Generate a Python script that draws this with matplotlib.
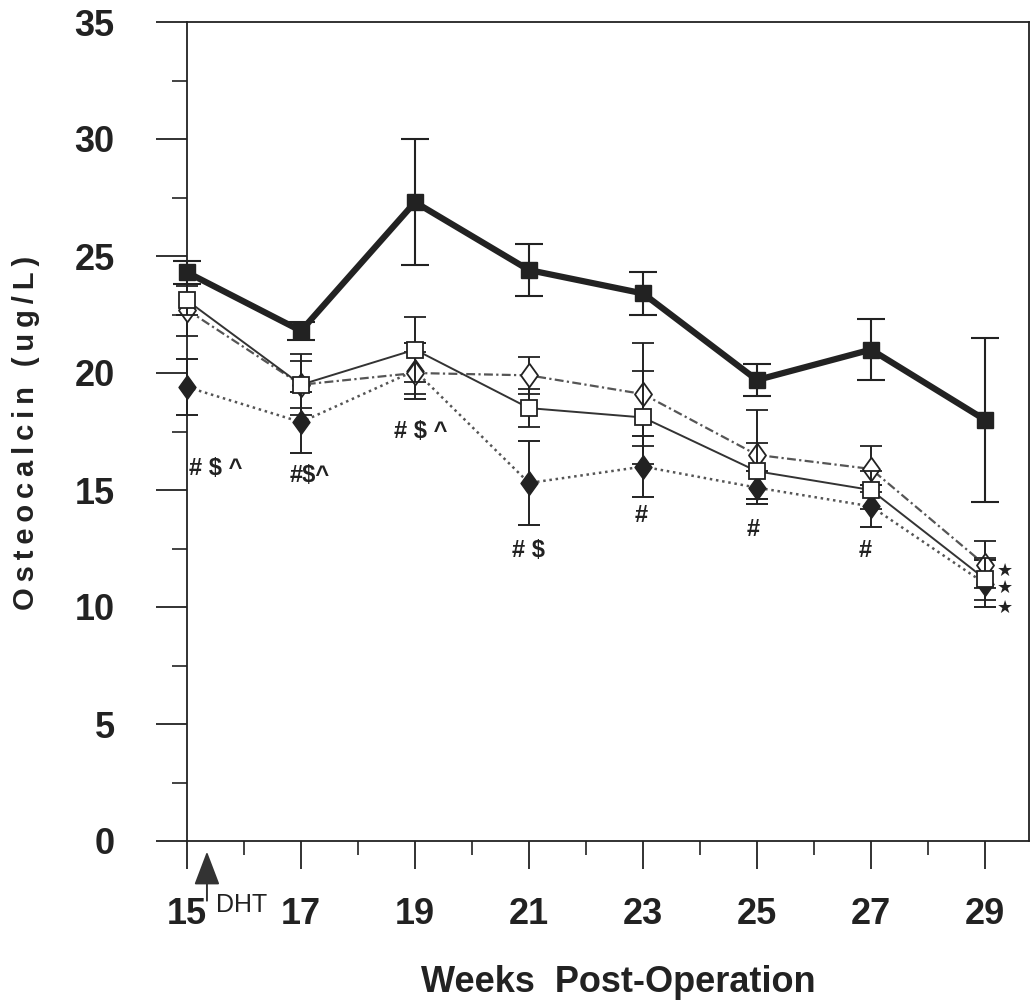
import matplotlib
matplotlib.use('Agg')
import matplotlib.pyplot as plt
from matplotlib.ticker import MultipleLocator

plt.rcParams['font.family'] = ['Liberation Sans', 'DejaVu Sans']

weeks = [15, 17, 19, 21, 23, 25, 27, 29]

# filled squares, thick line
sq_fill = [24.3, 21.8, 27.3, 24.4, 23.4, 19.7, 21.0, 18.0]
sq_fill_err = [0.5, 0.4, 2.7, 1.1, 0.9, 0.7, 1.3, 3.5]
# open squares, thin solid
sq_open = [23.1, 19.5, 21.0, 18.5, 18.1, 15.8, 15.0, 11.2]
sq_open_err = [0.6, 1.3, 1.4, 0.8, 2.0, 1.2, 0.8, 0.9]
# open diamonds, dash-dot
dm_open = [22.7, 19.5, 20.0, 19.9, 19.1, 16.5, 15.9, 11.8]
dm_open_err = [1.1, 1.0, 0.9, 0.8, 2.2, 1.9, 1.0, 1.0]
# filled diamonds, dotted
dm_fill = [19.4, 17.9, 20.1, 15.3, 16.0, 15.1, 14.3, 11.0]
dm_fill_err = [1.2, 1.3, 1.2, 1.8, 1.3, 0.7, 0.9, 1.0]

# significance marks (text, x, y)
marks = [
    ('# $ ^', 15.5, 15.9),
    ('#$^', 17.15, 15.6),
    ('# $ ^', 19.1, 17.5),
    ('# $', 21.0, 12.4),
    ('#', 22.96, 13.9),
    ('#', 24.93, 13.3),
    ('#', 26.9, 12.4),
]
stars_y = [11.55, 10.8, 9.95]

ink = '#222222'
diamond = [(0, 1), (0.72, 0), (0, -1), (-0.72, 0), (0, 1)]

fig = plt.figure(figsize=(10.32, 10.06), dpi=100)
ax = fig.add_axes([187/1032, 1 - 841/1006, (1029 - 187)/1032, (841 - 22)/1006])

series = []
series.append(ax.errorbar(weeks, dm_fill, yerr=dm_fill_err, color='#555555', ls=(0, (1, 1.5)), lw=1.8,
                          marker=diamond, ms=17, mfc=ink, mec=ink, ecolor=ink, elinewidth=1.4,
                          capsize=8, capthick=1.4, zorder=3))
series.append(ax.errorbar(weeks, dm_open, yerr=dm_open_err, color='#555555', ls=(0, (4, 1.5, 1, 1.5)), lw=1.6,
                          marker=diamond, ms=17, mfc='white', mec=ink, mew=1.3, ecolor=ink, elinewidth=1.4,
                          capsize=8, capthick=1.4, zorder=4))
series.append(ax.errorbar(weeks, sq_open, yerr=sq_open_err, color='#333333', ls='-', lw=1.4,
                          marker='s', ms=11, mfc='white', mec=ink, mew=1.3, ecolor=ink, elinewidth=1.4,
                          capsize=8, capthick=1.4, zorder=5))
series.append(ax.errorbar(weeks, sq_fill, yerr=sq_fill_err, color=ink, ls='-', lw=4.5,
                          marker='s', ms=12, mfc=ink, mec=ink, ecolor=ink, elinewidth=1.5,
                          capsize=10, capthick=1.5, zorder=6))
for cont in series:
    for art in cont.get_children():
        art.set_clip_on(False)

for txt, x, y in marks:
    ax.text(x, y, txt, fontsize=17, fontweight='bold', color=ink, ha='center', va='center')
for y in stars_y:
    ax.text(29.35, y, '\u2605', fontsize=13, color=ink, ha='center', va='center',
            family=['DejaVu Sans'])

ax.set_xlim(15, 15 + (1029 - 187) / 57)
ax.set_ylim(0, 35)
ax.xaxis.set_minor_locator(MultipleLocator(1))
ax.yaxis.set_major_locator(MultipleLocator(5))
ax.yaxis.set_minor_locator(MultipleLocator(2.5))
ax.set_xticks(weeks)

ax.tick_params(axis='y', which='major', direction='out', length=22, width=1.3, pad=30,
               labelsize=26, colors=ink)
ax.tick_params(axis='y', which='minor', direction='out', length=11, width=1.2, colors=ink)
ax.tick_params(axis='x', which='major', direction='out', length=20, width=1.3, pad=20,
               labelsize=26, colors=ink)
ax.tick_params(axis='x', which='minor', direction='out', length=10, width=1.2, colors=ink)
for lab in ax.get_xticklabels() + ax.get_yticklabels():
    lab.set_fontweight('bold')
for sp in ax.spines.values():
    sp.set_linewidth(1.3)
    sp.set_color(ink)

# DHT arrow
ax.annotate('', xy=(15.35, -0.45), xytext=(15.35, -2.55), annotation_clip=False,
            arrowprops=dict(arrowstyle='-|>,head_length=2.1,head_width=0.8',
                            color='#333333', lw=1.4, shrinkA=0, shrinkB=0))
ax.text(15.95, -2.75, 'DHT', fontsize=18, color=ink, ha='center', va='center',
        clip_on=False)

thin = '\u2009'
ylab = thin.join('Osteocalcin') + thin + ' ' + thin + thin.join('(ug/L)')
fig.text(26/1032, 1 - 433/1006, ylab, rotation=90, fontsize=21, fontweight='bold',
         color=ink, ha='center', va='center')
fig.text(618/1032, 1 - 982/1006, 'Weeks  Post-Operation', fontsize=26, fontweight='bold',
         color=ink, ha='center', va='center')

fig.savefig('out.png', dpi=100, facecolor='white')
